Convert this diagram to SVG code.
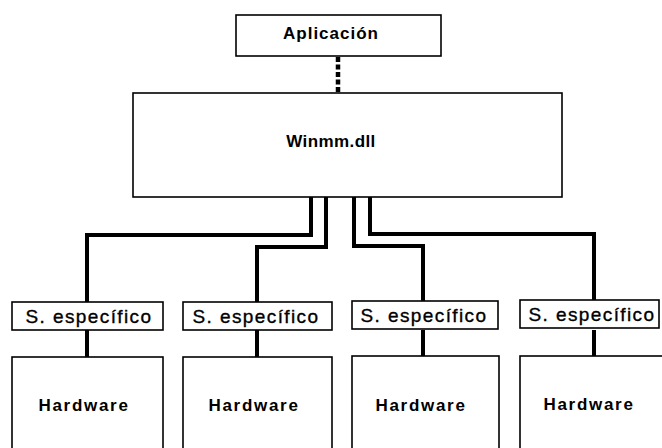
<svg xmlns="http://www.w3.org/2000/svg" width="662" height="448" viewBox="0 0 662 448">
  <style>
    .box { fill: #fff; stroke: #000; stroke-width: 1.6; }
    .wire { fill: none; stroke: #000; stroke-width: 4; stroke-linejoin: miter; stroke-linecap: butt; }
    .dotted { fill: none; stroke: #000; stroke-width: 4.5; stroke-dasharray: 5 2.5; }
    .bold { font-family: "Liberation Sans", Arial, sans-serif; font-weight: bold; font-size: 17px; fill: #000; text-anchor: middle; }
    .hw { letter-spacing: 1.7px; }
    .drv { font-family: "Liberation Sans", Arial, sans-serif; font-size: 19px; fill: #000; stroke: #000; stroke-width: 0.35; text-anchor: middle; letter-spacing: 1.4px; }
  </style>
  <rect width="662" height="448" fill="#fff"/>

  <!-- connectors -->
  <g id="connectors">
    <path class="dotted" d="M338 57 V93"/>
    <path class="wire" d="M311 197 V235 H87 V302"/>
    <path class="wire" d="M326 197 V247 H257 V302"/>
    <path class="wire" d="M354 197 V246 H423 V302"/>
    <path class="wire" d="M370 197 V234 H594 V302"/>
    <path class="wire" d="M87 330 V357"/>
    <path class="wire" d="M257 330 V357"/>
    <path class="wire" d="M423 330 V357"/>
    <path class="wire" d="M594 330 V357"/>
  </g>

  <g id="aplicacion">
    <rect class="box" x="236" y="15" width="205" height="41"/>
    <text class="bold" x="331" y="39" style="letter-spacing:1px">Aplicación</text>
  </g>

  <g id="winmm">
    <rect class="box" x="133" y="93" width="429" height="104"/>
    <text class="bold" x="331" y="147" style="letter-spacing:0.4px">Winmm.dll</text>
  </g>

  <g id="driver1">
    <rect class="box" x="12" y="302" width="151" height="28"/>
    <text class="drv" x="89" y="323">S. específico</text>
  </g>
  <g id="driver2">
    <rect class="box" x="183" y="302" width="149" height="28"/>
    <text class="drv" x="256" y="323">S. específico</text>
  </g>
  <g id="driver3">
    <rect class="box" x="352" y="301" width="146" height="28"/>
    <text class="drv" x="424" y="322">S. específico</text>
  </g>
  <g id="driver4">
    <rect class="box" x="520" y="300" width="139" height="28"/>
    <text class="drv" x="592" y="321">S. específico</text>
  </g>

  <g id="hardware1">
    <rect class="box" x="12" y="357" width="151" height="100"/>
    <text class="bold hw" x="84" y="411">Hardware</text>
  </g>
  <g id="hardware2">
    <rect class="box" x="183" y="357" width="149" height="100"/>
    <text class="bold hw" x="254" y="411">Hardware</text>
  </g>
  <g id="hardware3">
    <rect class="box" x="352" y="356" width="147" height="100"/>
    <text class="bold hw" x="421" y="411">Hardware</text>
  </g>
  <g id="hardware4">
    <rect class="box" x="520" y="356" width="160" height="100"/>
    <text class="bold hw" x="589" y="410">Hardware</text>
  </g>
</svg>
